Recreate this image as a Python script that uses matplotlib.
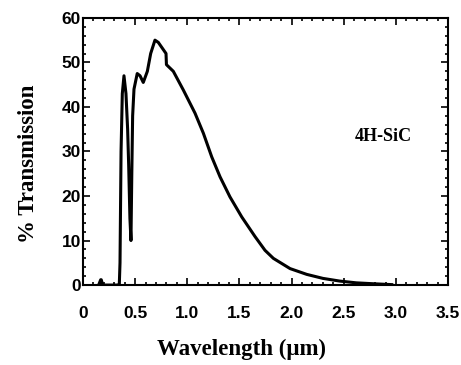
import matplotlib
matplotlib.use("Agg")
import matplotlib.pyplot as plt
from matplotlib.ticker import MultipleLocator

# transmission spectrum (wavelength in um, % transmission)
wavelength = [0.15, 0.17, 0.175, 0.19, 0.33, 0.348, 0.355, 0.365, 0.377, 0.393,
              0.412, 0.428, 0.438, 0.45, 0.46, 0.468, 0.476, 0.489, 0.52, 0.547,
              0.578, 0.617, 0.649, 0.69, 0.722, 0.796, 0.80, 0.866, 0.962, 1.074,
              1.154, 1.234, 1.314, 1.409, 1.522, 1.649, 1.745, 1.825, 1.985, 2.145,
              2.30, 2.46, 2.62, 2.78, 2.96]
transmission = [0, 1.2, 1.2, 0, 0, 0, 5, 30, 43, 47,
                43, 35, 27, 15, 10, 25, 38, 44, 47.5, 47,
                45.5, 48, 52, 55, 54.5, 52, 49.5, 48, 43.8, 38.6,
                34.1, 28.8, 24.3, 19.8, 15.3, 10.9, 7.8, 6.0, 3.7, 2.4,
                1.5, 0.9, 0.5, 0.3, 0.1]

x_ticks = [0, 0.5, 1.0, 1.5, 2.0, 2.5, 3.0, 3.5]
x_labels = ["0", "0.5", "1.0", "1.5", "2.0", "2.5", "3.0", "3.5"]
y_ticks = [0, 10, 20, 30, 40, 50, 60]

fig = plt.figure(figsize=(4.61, 3.65), dpi=100)
ax = fig.add_axes([0.180, 0.219, 0.792, 0.732])

ax.plot(wavelength, transmission, color="black", lw=2.2, solid_joinstyle="round")

ax.set_xlim(0, 3.5)
ax.set_ylim(0, 60)
ax.set_xticks(x_ticks)
ax.set_xticklabels(x_labels)
ax.set_yticks(y_ticks)
ax.xaxis.set_minor_locator(MultipleLocator(0.1))
ax.yaxis.set_minor_locator(MultipleLocator(2))

for lab in ax.get_xticklabels() + ax.get_yticklabels():
    lab.set_fontfamily("Liberation Sans")
    lab.set_fontweight("bold")
    lab.set_fontsize(12.5)

ax.tick_params(which="both", direction="in", top=True, right=True, width=1.2)
ax.tick_params(which="major", length=5)
ax.tick_params(which="minor", length=2.5)
ax.tick_params(axis="x", which="major", pad=15)
ax.tick_params(axis="y", which="major", pad=1.5)
for s in ax.spines.values():
    s.set_linewidth(1.5)

labfont = dict(family="Liberation Serif", weight="bold", size=16.5)
ax.set_xlabel("Wavelength (\u03bcm)", **labfont)
ax.xaxis.set_label_coords(0.435, -0.20)
ax.set_ylabel("% Transmission", **labfont)
ax.yaxis.set_label_coords(-0.12, 0.453)

ax.text(2.61, 33.3, "4H-SiC", family="Liberation Serif", weight="bold",
        size=13, va="center", ha="left")

fig.savefig("out.png", dpi=100)
